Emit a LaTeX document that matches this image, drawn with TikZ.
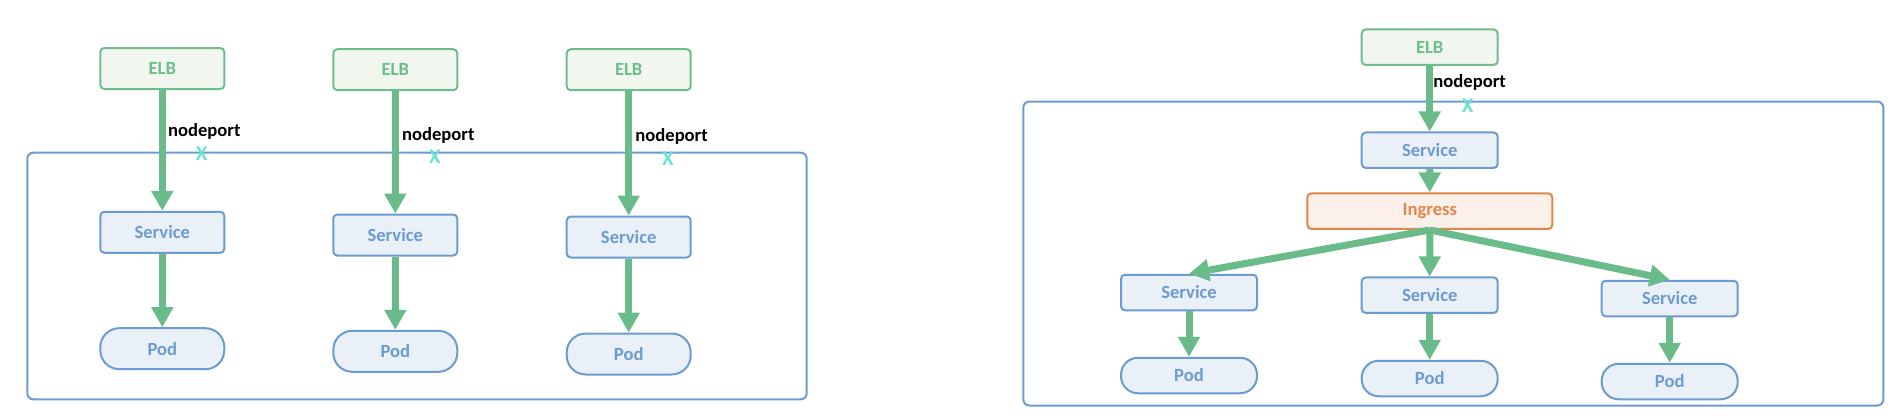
\documentclass[tikz,border=0pt]{standalone}
\usepackage{fontspec}
\setmainfont{Carlito}
\usetikzlibrary{arrows.meta}
\definecolor{gline}{RGB}{109,190,140}
\definecolor{gfill}{RGB}{241,247,238}
\definecolor{bline}{RGB}{108,155,210}
\definecolor{bfill}{RGB}{234,240,248}
\definecolor{oline}{RGB}{228,134,74}
\definecolor{ofill}{RGB}{251,241,234}
\definecolor{arrg}{RGB}{105,187,138}
\definecolor{xcyan}{RGB}{104,226,210}
\begin{document}
\begin{tikzpicture}[x=0.5pt,y=-0.5pt,
  base/.style={line width=1pt, inner sep=0pt, font=\fontsize{9.3}{10}\selectfont\bfseries},
  elb/.style={base, draw=gline, fill=gfill, text=gline, rounded corners=2pt},
  svc/.style={base, draw=bline, fill=bfill, text=bline, rounded corners=2pt},
  podl/.style={base, draw=bline, fill=bfill, text=bline, rounded corners=9.5pt},
  podr/.style={base, draw=bline, fill=bfill, text=bline, rounded corners=8.5pt},
  ing/.style={base, draw=oline, fill=ofill, text=oline, rounded corners=2pt},
  lw/.style={minimum width=62pt, minimum height=20.5pt},
  rw/.style={minimum width=68pt, minimum height=17.75pt},
  arr/.style={draw=arrg, line width=3.5pt, -{Triangle[width=10.5pt,length=10pt]}},
  np/.style={font=\fontsize{9.3}{10}\selectfont\bfseries, inner sep=0pt, anchor=west},
  xm/.style={text=xcyan, font=\fontsize{10.5}{11}\selectfont\bfseries, inner sep=0pt},
  frame/.style={draw=bline, line width=1pt, rounded corners=3pt}]
\useasboundingbox (0,0) rectangle (1898,418);
% frames
\draw[frame] (27.3,152.7) rectangle (806.7,399.3);
\draw[frame] (1023.3,101.5) rectangle (1883.3,405.5);
% left panel nodes
\node[elb,lw] (e1) at (162.3,68.5) {ELB};
\node[svc,lw] (s1) at (162.3,232.3) {Service};
\node[podl,lw] (p1) at (162.3,348.7) {Pod};
\node[elb,lw] (e2) at (395.3,69.7) {ELB};
\node[svc,lw] (s2) at (395.3,235) {Service};
\node[podl,lw] (p2) at (395.3,351.3) {Pod};
\node[elb,lw] (e3) at (628.7,69.7) {ELB};
\node[svc,lw] (s3) at (628.7,237) {Service};
\node[podl,lw] (p3) at (628.7,354) {Pod};
% right panel nodes
\node[elb,rw] (re) at (1429.7,47.2) {ELB};
\node[svc,rw] (rs) at (1429.7,150.2) {Service};
\node[ing,minimum width=122.5pt,minimum height=17.75pt] (ri) at (1429.8,211.2) {Ingress};
\node[svc,rw] (rsl) at (1189,292.5) {Service};
\node[svc,rw] (rsm) at (1429.7,295.2) {Service};
\node[svc,rw] (rsr) at (1669.7,298.5) {Service};
\node[podr,rw] (rpl) at (1189,375.5) {Pod};
\node[podr,rw] (rpm) at (1429.7,378.5) {Pod};
\node[podr,rw] (rpr) at (1669.7,381.5) {Pod};
% arrows left
\draw[arr] (e1) -- (s1);
\draw[arr] (s1) -- (p1);
\draw[arr] (e2) -- (s2);
\draw[arr] (s2) -- (p2);
\draw[arr] (e3) -- (s3);
\draw[arr] (s3) -- (p3);
% arrows right
\draw[arr] (re) -- (rs);
\draw[arr] (rs) -- (ri);
\draw[arr] (ri.south) -- (rsl.north);
\draw[arr] (ri.south) -- (rsm.north);
\draw[arr] (ri.south) -- (rsr.north);
\draw[arr] (rsl) -- (rpl);
\draw[arr] (rsm) -- (rpm);
\draw[arr] (rsr) -- (rpr);
% labels
\node[np] (n1) at (167.7,131.7) {nodeport};
\node[np] (n2) at (401.7,135) {nodeport};
\node[np] (n3) at (635,136.7) {nodeport};
\node[np] (n4) at (1433,82.7) {nodeport};
\node[xm] (x1) at (201.7,154) {X};
\node[xm] (x2) at (435,156.7) {X};
\node[xm] (x3) at (668,159) {X};
\node[xm] (x4) at (1467.7,106) {X};
\end{tikzpicture}
\end{document}
